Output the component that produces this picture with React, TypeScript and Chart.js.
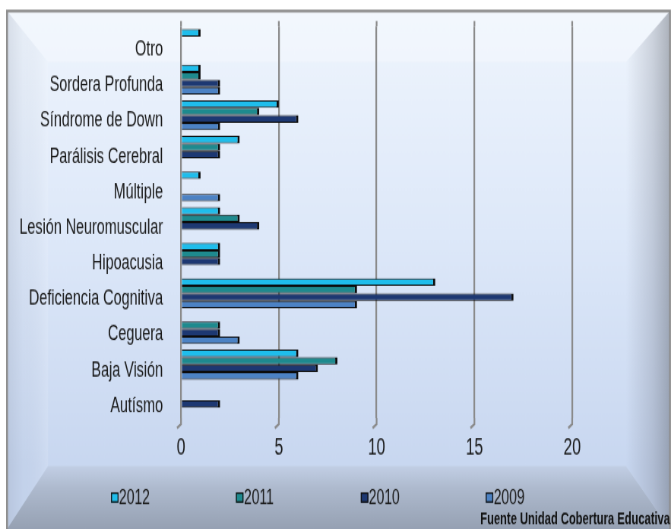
import React, { useEffect, useRef } from 'react';
import { Chart, registerables } from 'chart.js';

Chart.register(...registerables);

const categories = [
  'Otro',
  'Sordera Profunda',
  'Síndrome de Down',
  'Parálisis Cerebral',
  'Múltiple',
  'Lesión Neuromuscular',
  'Hipoacusia',
  'Deficiencia Cognitiva',
  'Ceguera',
  'Baja Visión',
  'Autísmo',
];
const seriesLabels = ['2012', '2011', '2010', '2009'];
const values2012 = [1, 1, 5, 3, 1, 2, 2, 13, 0, 6, 0];
const values2011 = [0, 1, 4, 2, 0, 3, 2, 9, 2, 8, 0];
const values2010 = [0, 2, 6, 2, 0, 4, 2, 17, 2, 7, 2];
const values2009 = [0, 2, 2, 0, 2, 0, 0, 9, 3, 6, 0];
const seriesColors = ['#1FBDEB', '#1E8A8E', '#1D3872', '#4C82C4'];
const xTicks = [0, 5, 10, 15, 20];
const xMax = 25;
const sourceNote = 'Fuente Unidad Cobertura Educativa';

// The original picture is a condensed, vertically stretched render:
// draw on an internal canvas and let CSS scale it to 671x529.
const CSS_W = 671;
const CSS_H = 529;
const W = 883;
const H = 448;
const SX = CSS_W / W;
const SY = CSS_H / H;
const X = (v: number) => v / SX;
const Y = (v: number) => v / SY;
const FONT = "'Liberation Sans', Arial, sans-serif";

const Y_FONT = 18.9;
const X_FONT = 20.5;
const LEG_FONT = 18.3;
const TITLE_FONT = 14.7;
const GRID_COLOR = '#8A8A8A';

// vertical layout (internal units), derived from target page positions
const plotTop = Y(26.2);
const plotBottom = Y(418);
const xLabelLH = X_FONT * 1.2;
const xPad = Y(448) - plotBottom - xLabelLH / 2;
const axisBottom = plotBottom + xLabelLH + 2 * xPad;
const titleLH = TITLE_FONT;
const titlePadTop = Y(520) - titleLH / 2 - axisBottom;
const bottomPad = Math.max(0, H - axisBottom - titlePadTop - titleLH);

const framePlugin = {
  id: 'frameBg',
  beforeDraw(chart: any) {
    const ctx = chart.ctx as CanvasRenderingContext2D;
    const x0 = X(7), y0 = Y(11), x1 = X(670), y1 = Y(529);
    const ix0 = X(48), iy0 = Y(62), ix1 = X(626), iy1 = Y(466);
    ctx.save();
    const g = ctx.createLinearGradient(0, y0, 0, iy1);
    g.addColorStop(0, '#EFF5FD');
    g.addColorStop(0.5, '#DDE8F9');
    g.addColorStop(1, '#C8D7F0');
    ctx.fillStyle = g;
    ctx.fillRect(x0, y0, x1 - x0, y1 - y0);

    const poly = (pts: number[][], fill: any) => {
      ctx.beginPath();
      ctx.moveTo(pts[0][0], pts[0][1]);
      for (let i = 1; i < pts.length; i++) ctx.lineTo(pts[i][0], pts[i][1]);
      ctx.closePath();
      ctx.fillStyle = fill;
      ctx.fill();
    };
    poly([[x0, y0], [x1, y0], [ix1, iy0], [ix0, iy0]], 'rgba(255,255,255,0.25)');
    const gl = ctx.createLinearGradient(x0, 0, ix0, 0);
    gl.addColorStop(0, 'rgba(110,120,140,0.18)');
    gl.addColorStop(0.4, 'rgba(110,120,140,0.05)');
    gl.addColorStop(1, 'rgba(255,255,255,0.12)');
    poly([[x0, y0], [ix0, iy0], [ix0, iy1], [x0, y1]], gl);
    const gr = ctx.createLinearGradient(ix1, 0, x1, 0);
    gr.addColorStop(0, 'rgba(90,95,110,0.0)');
    gr.addColorStop(0.6, 'rgba(90,95,110,0.22)');
    gr.addColorStop(1, 'rgba(80,85,95,0.42)');
    poly([[x1, y0], [x1, y1], [ix1, iy1], [ix1, iy0]], gr);
    const gb = ctx.createLinearGradient(0, iy1, 0, y1);
    gb.addColorStop(0, '#C2CFE5');
    gb.addColorStop(0.35, '#AEBACE');
    gb.addColorStop(1, '#96A1B3');
    poly([[x0, y1], [ix0, iy1], [ix1, iy1], [x1, y1]], gb);

    ctx.strokeStyle = '#8E8E8E';
    ctx.lineWidth = 2.4;
    ctx.strokeRect(x0, y0, x1 - x0, y1 - y0 + 4);
    ctx.restore();
  },
};

// extends each vertical gridline slightly beyond the plot (3D wall look)
const gridExtendPlugin = {
  id: 'gridExtend',
  beforeDatasetsDraw(chart: any) {
    const ctx = chart.ctx as CanvasRenderingContext2D;
    const xs = chart.scales.x;
    const area = chart.chartArea;
    ctx.save();
    ctx.strokeStyle = GRID_COLOR;
    ctx.lineWidth = 2.2;
    xs.ticks.forEach((t: any) => {
      const px = xs.getPixelForValue(t.value);
      ctx.beginPath();
      ctx.moveTo(px, Y(21));
      ctx.lineTo(px, area.top);
      ctx.moveTo(px, area.bottom);
      ctx.lineTo(px, Y(424));
      ctx.lineTo(px - X(4), Y(428));
      ctx.stroke();
    });
    ctx.restore();
  },
};

const legendPlugin = {
  id: 'manualLegend',
  afterDraw(chart: any) {
    const ctx = chart.ctx as CanvasRenderingContext2D;
    const startX = X(111);
    const step = X(124.9);
    const cy = Y(497.5);
    const bw = X(7.5);
    const bh = Y(10);
    ctx.save();
    ctx.font = `${LEG_FONT}px ${FONT}`;
    ctx.textBaseline = 'middle';
    ctx.textAlign = 'left';
    chart.data.datasets.forEach((ds: any, i: number) => {
      const x = startX + i * step;
      ctx.fillStyle = ds.backgroundColor;
      ctx.fillRect(x, cy - bh / 2, bw, bh);
      ctx.strokeStyle = '#111';
      ctx.lineWidth = 1.3;
      ctx.strokeRect(x + 0.65, cy - bh / 2 + 0.5, bw - 1.3, bh - 1);
      ctx.fillStyle = '#1a1a1a';
      ctx.fillText(ds.label, x + bw + X(0.5), cy + 0.5);
    });
    ctx.restore();
  },
};

export default function App() {
  const ref = useRef<HTMLCanvasElement | null>(null);
  useEffect(() => {
    if (!ref.current) return;
    const series = [values2012, values2011, values2010, values2009];
    const chart = new Chart(ref.current, {
      type: 'bar',
      data: {
        labels: categories,
        datasets: seriesLabels.map((label, i) => ({
          label,
          data: series[i],
          backgroundColor: seriesColors[i],
          borderColor: '#0c0c0c',
          borderWidth: { top: 1, bottom: 1, left: 0, right: 3 },
          borderSkipped: 'left',
          barPercentage: 1,
          categoryPercentage: 0.84,
        })),
      },
      options: {
        indexAxis: 'y',
        responsive: false,
        devicePixelRatio: 1,
        animation: false,
        layout: { padding: { left: 0, top: plotTop, right: W - X(670), bottom: bottomPad } },
        scales: {
          x: {
            type: 'linear',
            min: 0,
            max: xMax,
            afterBuildTicks: (s: any) => {
              s.ticks = xTicks.map((v) => ({ value: v }));
            },
            grid: { color: GRID_COLOR, lineWidth: 2.2, drawTicks: false },
            border: { display: false },
            ticks: { font: { family: FONT, size: X_FONT }, color: '#1a1a1a', padding: xPad },
          },
          y: {
            type: 'category',
            afterFit: (s: any) => {
              s.width = X(181);
              s.paddingTop = 0;
              s.paddingBottom = 0;
            },
            grid: { display: false, drawTicks: false },
            border: { display: false },
            ticks: {
              font: { family: FONT, size: Y_FONT },
              color: '#1a1a1a',
              padding: X(18),
              labelOffset: Y(5.5),
              autoSkip: false,
            },
          },
        },
        plugins: {
          legend: { display: false },
          tooltip: { enabled: false },
          title: {
            display: true,
            text: sourceNote,
            position: 'bottom',
            align: 'end',
            color: '#111',
            font: { family: FONT, size: TITLE_FONT, weight: 'bold', lineHeight: 1 },
            padding: { top: titlePadTop, bottom: 0 },
          },
        },
      },
      plugins: [framePlugin, gridExtendPlugin, legendPlugin],
    } as any);
    return () => chart.destroy();
  }, []);
  return (
    <div style={{ position: 'fixed', left: 0, top: 0, width: CSS_W, height: CSS_H }}>
      <canvas
        ref={ref}
        width={W}
        height={H}
        style={{ width: `${CSS_W}px`, height: `${CSS_H}px`, display: 'block' }}
      />
    </div>
  );
}
